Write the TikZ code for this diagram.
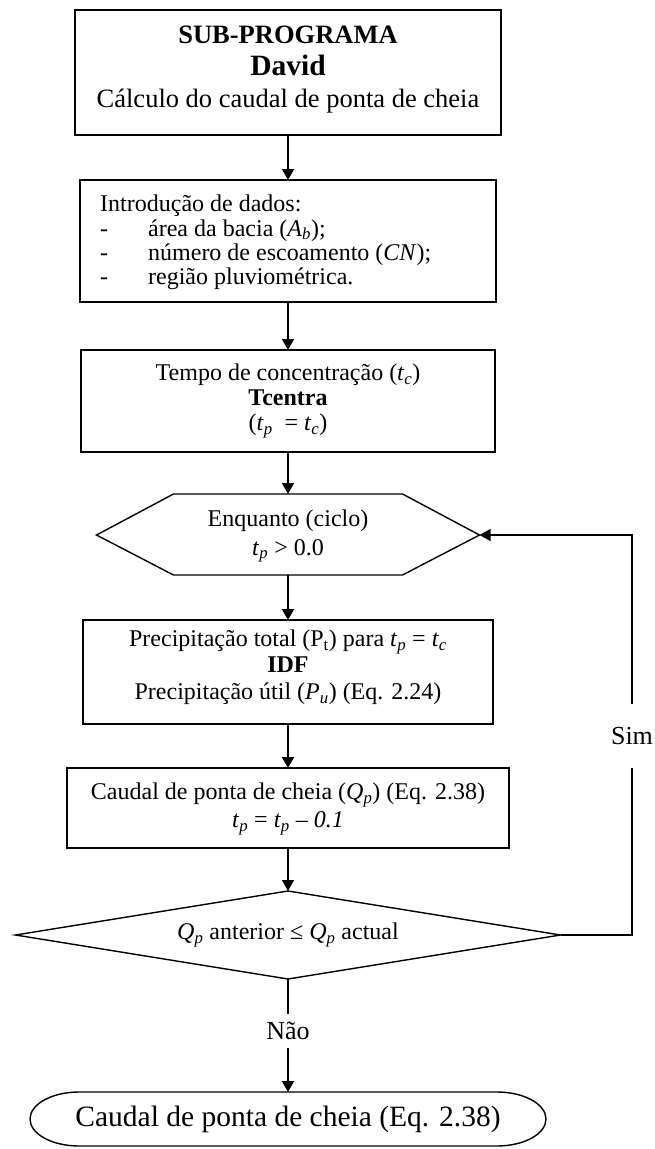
\documentclass[tikz,border=0pt]{standalone}
\usepackage{fontspec}
\setmainfont{Liberation Serif}
\usetikzlibrary{arrows.meta}
\newcommand{\ipx}[2]{\textit{#1}\textsubscript{\textit{#2}}}
\tikzset{
  boxnode/.style={draw, line width=1.4pt, inner sep=0pt, outer sep=0pt},
  shapeline/.style={draw, line width=1.4pt, line join=miter},
  conn/.style={line width=1.3pt},
  arr/.style={conn, -{Triangle[length=11pt,width=12pt]}},
  txt/.style={align=center, inner sep=0pt, font=\fontsize{24}{27.5}\selectfont},
  bigtxt/.style={align=center, inner sep=0pt, font=\fontsize{26.5}{32}\selectfont},
  lbl/.style={inner sep=0pt, fill=white, font=\fontsize{26}{30}\selectfont}
}
\begin{document}
\begin{tikzpicture}[x=1pt,y=-1pt]
\useasboundingbox (0,0) rectangle (655,1149);
\fill[white] (0,0) rectangle (655,1149);

% box 1
\node[boxnode, minimum width=426pt, minimum height=125pt] (b1) at (288,72.5) {};
\node[bigtxt] (t1) at (288,70) {\textbf{SUB-PROGRAMA}\\{\fontsize{29.5}{32}\selectfont\textbf{David}}\\Cálculo do caudal de ponta de cheia};

% box 2
\node[boxnode, minimum width=416pt, minimum height=122pt] (b2) at (288,241) {};
\node[txt, align=left, anchor=west, font=\fontsize{24}{24.4}\selectfont] (t2) at (100,242.5)
  {Introdução de dados:\\
   \makebox[48pt][l]{-}área da bacia (\ipx{A}{b});\\
   \makebox[48pt][l]{-}número de escoamento (\textit{CN});\\
   \makebox[48pt][l]{-}região pluviométrica.};

% box 3
\node[boxnode, minimum width=414pt, minimum height=102pt] (b3) at (288,401) {};
\node[txt, font=\fontsize{24}{25}\selectfont] (t3) at (288,401)
  {Tempo de concentração (\ipx{t}{c})\\\textbf{Tcentra}\\(\ipx{t}{p}\ \ = \ipx{t}{c})};

% hexagon
\coordinate (hexN) at (288,494);
\coordinate (hexS) at (288,575);
\coordinate (hexE) at (479.5,535);
\draw[shapeline] (96.5,535) -- (173.5,494) -- (402.5,494) -- (479.5,535) -- (402.5,575) -- (173.5,575) -- cycle;
\node[txt, font=\fontsize{24}{29}\selectfont] (t4) at (288,536) {Enquanto (ciclo)\\\ipx{t}{p} > 0.0};

% box 5
\node[boxnode, minimum width=410pt, minimum height=104pt] (b5) at (288,672) {};
\node[txt, font=\fontsize{24}{26.5}\selectfont] (t5) at (288,667)
  {Precipitação total (P\textsubscript{t}) para \ipx{t}{p} = \ipx{t}{c}\\\textbf{IDF}\\Precipitação útil (\ipx{P}{u}) (Eq. 2.24)};

% box 6
\node[boxnode, minimum width=442pt, minimum height=80pt] (b6) at (288,808) {};
\node[txt, font=\fontsize{24}{28}\selectfont] (t6) at (288,809)
  {Caudal de ponta de cheia (\ipx{Q}{p}) (Eq. 2.38)\\\ipx{t}{p} = \ipx{t}{p} – \textit{0.1}};

% diamond
\coordinate (dN) at (288,891);
\coordinate (dS) at (288,979);
\coordinate (dE) at (560.5,935);
\draw[shapeline] (15.5,935) -- (288,891) -- (560.5,935) -- (288,979) -- cycle;
\node[txt] (t7) at (288,935) {\ipx{Q}{p} anterior ≤ \ipx{Q}{p} actual};

% terminator
\coordinate (termN) at (288,1092);
\draw[shapeline] (79,1092) -- (497,1092) arc[start angle=-90, end angle=90, x radius=49, y radius=27]
  -- (79,1146) arc[start angle=90, end angle=270, x radius=49, y radius=27] -- cycle;
\node[inner sep=0pt, font=\fontsize{29.5}{32}\selectfont] (t8) at (288,1119) {Caudal de ponta de cheia (Eq. 2.38)};

% labels on connectors
\node[lbl, minimum height=34pt] (nao) at (288,1031) {Não};
\node[lbl, minimum height=64pt] (sim) at (632,736) {Sim};

% connectors
\draw[arr] (b1.south) -- (b2.north);
\draw[arr] (b2.south) -- (b3.north);
\draw[arr] (b3.south) -- (hexN);
\draw[arr] (hexS) -- (b5.north);
\draw[arr] (b5.south) -- (b6.north);
\draw[arr] (b6.south) -- (dN);
\draw[conn] (dS) -- (nao.north);
\draw[arr] (nao.south) -- (termN);
\draw[conn] (dE) -| (sim.south);
\draw[arr] (sim.north) |- (hexE);
\end{tikzpicture}
\end{document}
